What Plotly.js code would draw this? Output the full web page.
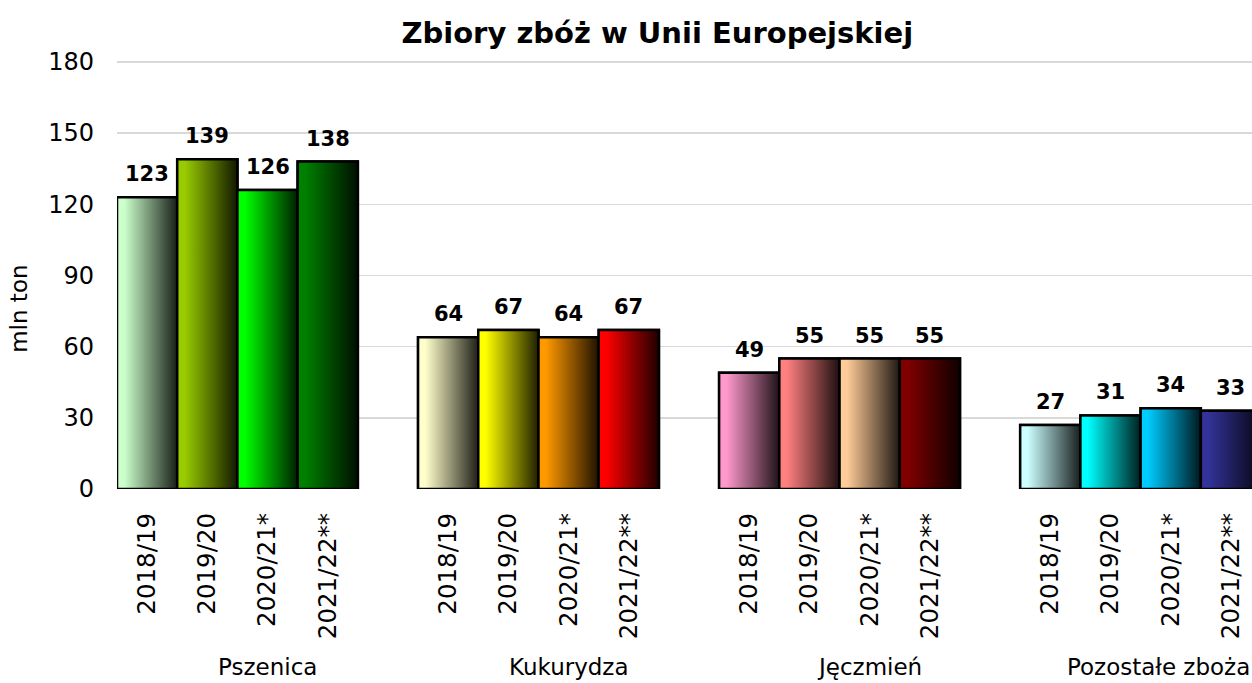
<!DOCTYPE html>
<html>
<head>
<meta charset="utf-8">
<script src="https://cdn.plot.ly/plotly-3.0.1.min.js"></script>
<style>html,body{margin:0;padding:0;background:#fff;}#chart{width:1252px;height:683px;}</style>
</head>
<body>
<div id="chart"></div>
<script>
// Data
var groups = ["Pszenica", "Kukurydza", "Jęczmień", "Pozostałe zboża"];
var seasons = ["2018/19", "2019/20", "2020/21*", "2021/22**"];
var pszenica = [123, 139, 126, 138];
var kukurydza = [64, 67, 64, 67];
var jeczmien = [49, 55, 55, 55];
var pozostale = [27, 31, 34, 33];
var colors = [
  ["#ccffcc", "#99cc00", "#00ff00", "#008000"],
  ["#ffffcc", "#ffff00", "#ff9900", "#ff0000"],
  ["#ff99cc", "#ff8080", "#ffcc99", "#800000"],
  ["#ccffff", "#00ffff", "#00ccff", "#333399"]
];
var values = [pszenica, kukurydza, jeczmien, pozostale];

function darken(hex, f) {
  var r = parseInt(hex.substr(1,2),16), g = parseInt(hex.substr(3,2),16), b = parseInt(hex.substr(5,2),16);
  return "rgb(" + Math.round(r*f) + "," + Math.round(g*f) + "," + Math.round(b*f) + ")";
}

var traces = [];
var annotations = [];
var tickvals = [], ticktext = [];
var font = "DejaVu Sans, Verdana, sans-serif";

groups.forEach(function(gname, g) {
  var xs = [], ys = [], cols = [];
  seasons.forEach(function(s, i) {
    var pos = g * 5 + i;
    xs.push(pos); ys.push(values[g][i]); cols.push(colors[g][i]);
    tickvals.push(pos); ticktext.push(s);
  });
  traces.push({
    type: "bar", x: xs, y: ys, width: 1, name: gname,
    marker: {color: cols, line: {color: "#000", width: 2.5}},
    showlegend: false, hoverinfo: "y"
  });
});

// gradient overlays built from the same values
groups.forEach(function(gname, g) {
  seasons.forEach(function(s, i) {
    var pos = g * 5 + i, v = values[g][i], c = colors[g][i];
    traces.push({
      type: "scatter", mode: "lines",
      x: [pos - 0.5, pos + 0.5, pos + 0.5, pos - 0.5, pos - 0.5],
      y: [0, 0, v, v, 0],
      fill: "toself",
      fillgradient: {type: "horizontal", colorscale: [[0, c], [0.12, c], [1, darken(c, 0.12)]]},
      line: {color: "#000", width: 2.5},
      showlegend: false, hoverinfo: "skip"
    });
    annotations.push({
      x: pos, y: v, xref: "x", yref: "y", text: String(v),
      showarrow: false, yanchor: "bottom", yshift: 9,
      font: {family: font, size: 21, color: "#000", weight: "bold"}
    });
  });
  var last = g === groups.length - 1;
  annotations.push({
    x: last ? 1 : g * 5 + 2, xref: last ? "paper" : "x",
    y: 0, yref: "paper", yshift: -163,
    xanchor: last ? "right" : "center", yanchor: "top",
    text: gname, showarrow: false,
    font: {family: font, size: 23, color: "#000"}
  });
});

annotations.push({
  x: 0, xref: "paper", xshift: -113, y: 0.42, yref: "paper",
  text: "mln ton", textangle: -90, showarrow: false,
  font: {family: font, size: 23, color: "#000"}
});

var layout = {
  width: 1252, height: 683,
  margin: {l: 117, r: 0, t: 60, b: 194},
  paper_bgcolor: "#fff", plot_bgcolor: "#fff",
  title: {text: "<b>Zbiory zbóż w Unii Europejskiej</b>", x: 0.525, xanchor: "center", y: 0.952, yanchor: "middle",
          font: {family: font, size: 29, color: "#000"}},
  xaxis: {
    range: [-0.5, 18.35], tickmode: "array", tickvals: tickvals, ticktext: ticktext,
    tickangle: -90, showgrid: false, zeroline: false, showline: false, ticks: "",
    ticklabelstandoff: 18,
    tickfont: {family: font, size: 24.5, color: "#000"}, fixedrange: true
  },
  yaxis: {
    range: [0, 180.8], tickvals: [0, 30, 60, 90, 120, 150, 180],
    showgrid: true, gridcolor: "#d9d9d9", gridwidth: 1.5, zeroline: false, showline: false,
    ticks: "", ticklabelstandoff: 22,
    tickfont: {family: font, size: 24, color: "#000"}, fixedrange: true
  },
  bargap: 0, showlegend: false,
  annotations: annotations
};

Plotly.newPlot("chart", traces, layout, {displayModeBar: false, staticPlot: true});
</script>
</body>
</html>
